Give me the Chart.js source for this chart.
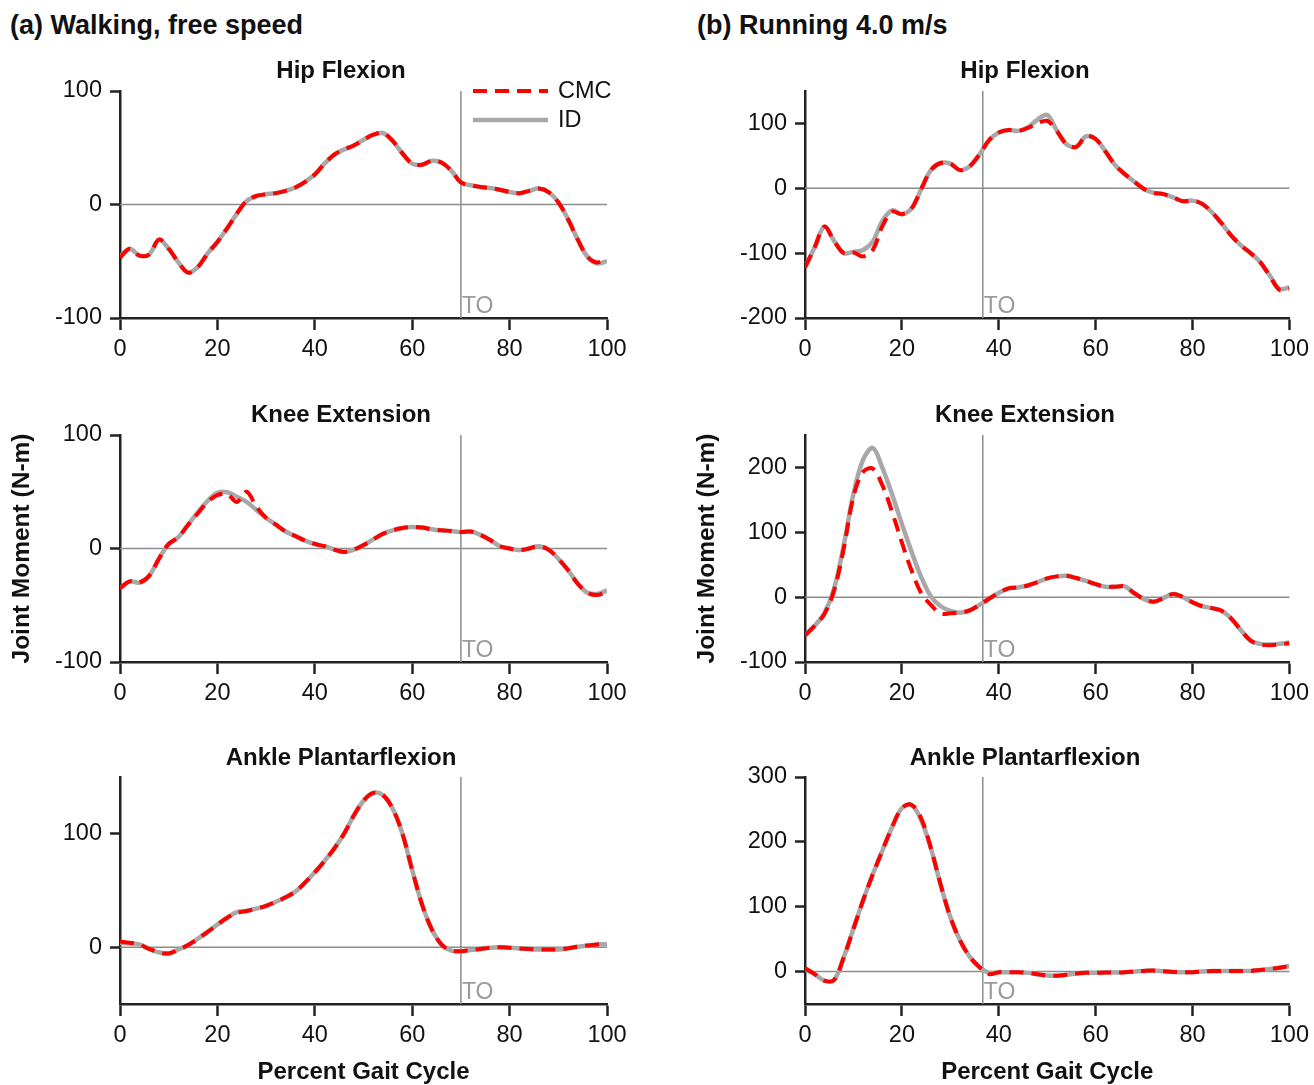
<!DOCTYPE html>
<html><head><meta charset="utf-8">
<script src="https://cdn.jsdelivr.net/npm/chart.js@4.4.1/dist/chart.umd.min.js"></script>
<style>
html,body{margin:0;padding:0;background:#fff;width:1314px;height:1085px;overflow:hidden;position:relative;font-family:"Liberation Sans",Arial,sans-serif;}
canvas{position:absolute;}
.hdr{position:absolute;font-weight:bold;font-size:27px;line-height:30px;color:#111;white-space:nowrap;}
</style></head><body>
<div class="hdr" style="left:10px;top:10px">(a) Walking, free speed</div>
<div class="hdr" style="left:697px;top:10px">(b) Running 4.0 m/s</div>
<canvas id="c0"></canvas><canvas id="c1"></canvas><canvas id="c2"></canvas>
<canvas id="c3"></canvas><canvas id="c4"></canvas><canvas id="c5"></canvas>
<script>
// ---------- data ----------
const pct = [0,2,4,6,8,10,12,14,16,18,20,22,24,26,28,30,32,34,36,38,40,42,44,46,48,50,52,54,56,58,60,62,64,66,68,70,72,74,76,78,80,82,84,86,88,90,92,94,96,98,100];
const xTicks = [0,20,40,60,80,100];

const walkHipID  = [-46,-39,-45,-44,-31,-39,-51,-60,-55,-43,-33,-21,-8,3,7.5,9,10,12,15,20,26.5,36,44,48.5,52,57,61.5,63,56,45,36,35,38.5,37,30,19.5,17,15.5,14.5,13,11,10,12,14,11,2,-13,-31,-46,-52,-50];
const walkHipCMC = [-47,-39,-45,-44,-31,-39,-51,-60,-55,-43,-33,-21,-8,3,7.5,9,10,12,15,20,26.5,36,44,48.5,52,57,61.5,63,56,45,36,35,38.5,37,30,19.5,17,15.5,14.5,13,11,10,12,14,11,2,-13,-31,-46,-51,-47];

const walkKneeID  = [-35,-29,-30,-24,-9,4,10,21,32,42,49,49.5,45.5,41,34,27,21,15,11,7,4,2,-1,-3,-1,3,8,13,16,18,19,18.5,17,16,15.5,14.5,15,12,7.5,2,0,-1.5,0,2,-1,-9,-19,-31,-39,-40,-37];
const walkKneeCMC = [-35,-29,-30,-24,-9,4,10,21,31,41,47,48,41,50,37,27,21,15,11,7,4,2,-1,-3,-1,3,8,13,16,18,19,18.5,17,16,15.5,14.5,15,12,7.5,2,0,-1.5,0,2,-1,-9,-19,-31,-39,-41,-38];

const walkAnkleID  = [4,3.5,2.5,-1.5,-4.5,-5.5,-2,2,7.5,13.5,20,26,31,32,34,36.5,40,44,49,57,66,76,87,100,116,129,136,134,122,100,68,38,16,2.5,-3,-3.5,-2.5,-1.5,-0.5,0,-0.5,-1,-1.5,-2,-2,-2,-1,0.5,1.5,2.5,2.5];
const walkAnkleCMC = [5,4,2.5,-1.5,-4.5,-5.5,-2,2,7.5,13.5,20,26,30,32,34,36.5,40,44,49,57,66,76,87,100,116,129,136,134,122,100,68,38,16,2.5,-3,-3.5,-2.5,-1.5,-0.5,0,-0.5,-1,-1.5,-2,-2,-2,-1,0.5,1.5,2.5,3];

const runHipID  = [-122,-91,-59,-81,-100,-98,-95,-82,-50,-34,-40,-31,-1,28,39,38,28,34,52,74,86,90,88.5,94,106,113,89,68,64,80,76,57,36,22,10,-1,-7,-9,-14,-20,-19,-24,-37,-54,-73,-88,-100,-114,-135,-155,-153];
const runHipCMC = [-122,-91,-59,-81,-100,-99,-105,-95,-58,-36,-40,-31,-1,28,39,38,28,34,52,74,86,90,88.5,93,100,104,88,68,64,80,76,57,36,22,10,-1,-7,-9,-14,-20,-19,-24,-37,-54,-73,-88,-100,-114,-136,-157,-155];

const runKneeID  = [-59,-44,-25,13,80,159,212,230,199,158,113,70,31,1,-14,-21,-24,-20.5,-12,-2.5,6.5,13.5,15,18,23,29,32,33,29.5,25,20,16,16,16.5,6,-3,-7,-1.5,5,0,-8,-14,-17,-21,-33,-51,-67,-72,-73,-72,-70];
const runKneeCMC = [-59,-44,-26,10,75,155,193,198,172,131,84,41,6,-12,-25,-25,-24,-20.5,-12,-2.5,6.5,13.5,15,18,23,29,32,33,29.5,25,20,16,16,16.5,6,-3,-7,-1.5,5,0,-8,-14,-17,-21,-33,-51,-67,-73,-74,-73,-71];

const runAnkleID  = [5,-4,-14,-13,22,66,110,150,187,223,252,257,233,190,134,84,48,23,7,-2,-1,-1,-1,-2,-4,-6,-6.5,-5,-3,-2,-2,-1.5,-1.5,-1,0,1,1.5,0.5,-0.5,-1,-1,0,1,1,1,1,1,2.5,4,6,8.5];
const runAnkleCMC = [5,-4,-14,-13,22,66,110,150,187,223,252,257,236,190,134,84,48,23,7,-4,-1,-1,-1,-2,-4,-6,-6.5,-5,-3,-2,-2,-1.5,-1.5,-1,0,1,1.5,0.5,-0.5,-1,-1,0,1,1,1,1,1,2.5,4,6,8.5];

const walkHipRange = [-100,100],  walkHipTicks = [-100,0,100];
const walkKneeRange = [-100,100], walkKneeTicks = [-100,0,100];
const walkAnkleRange = [-50,150], walkAnkleTicks = [0,100];
const runHipRange = [-200,150],   runHipTicks = [-200,-100,0,100];
const runKneeRange = [-100,250],  runKneeTicks = [-100,0,100,200];
const runAnkleRange = [-50,300],  runAnkleTicks = [0,100,200,300];

const walkToeOff = 70, runToeOff = 36.7;
const seriesNames = ['CMC','ID'];
const panelTitles = ['Hip Flexion','Knee Extension','Ankle Plantarflexion'];
const yAxisTitle = 'Joint Moment (N-m)';
const xAxisTitle = 'Percent Gait Cycle';

// ---------- layout ----------
const FONT = '"Liberation Sans", Arial, sans-serif';
Chart.defaults.font.family = FONT;
const cols = [
  {left:0,   width:650, plotLeft:120, plotRight:607, titleX:341},
  {left:685, width:629, plotLeft:805, plotRight:1291, titleX:1025}
];
const rows = [
  {top:45,  height:320, titleY:71,  plotTop:91,  plotBottom:318},
  {top:389, height:320, titleY:415, plotTop:435, plotBottom:662},
  {top:732, height:353, titleY:758, plotTop:777, plotBottom:1004}
];
const TICK_SIZE = 23.5;

const refLines = {
  id: 'refLines',
  beforeDatasetsDraw(chart, args, o) {
    const {ctx, chartArea: a, scales: {x, y}} = chart;
    ctx.save();
    ctx.strokeStyle = '#8c8c8c'; ctx.lineWidth = 1.5;
    const y0 = y.getPixelForValue(0);
    ctx.beginPath(); ctx.moveTo(a.left, y0); ctx.lineTo(a.right, y0); ctx.stroke();
    const xt = x.getPixelForValue(o.toeOff);
    ctx.beginPath(); ctx.moveTo(xt, a.top); ctx.lineTo(xt, a.bottom); ctx.stroke();
    ctx.fillStyle = '#9a9a9a'; ctx.font = '23px ' + FONT;
    ctx.textAlign = 'left'; ctx.textBaseline = 'alphabetic';
    ctx.fillText('TO', xt + 1, a.bottom - 5);
    ctx.restore();
  },
  afterDatasetsDraw(chart, args, o) {
    const {ctx, chartArea: a} = chart;
    ctx.save();
    // panel title
    ctx.fillStyle = '#111'; ctx.font = 'bold 24px ' + FONT;
    ctx.textAlign = 'center'; ctx.textBaseline = 'middle';
    ctx.fillText(o.title, o.titleX, o.titleY);
    if (o.legend) {
      chart.data.datasets.forEach((d, i) => {
        const yy = a.top + i * 29;
        ctx.strokeStyle = d.borderColor; ctx.lineWidth = d.borderWidth;
        ctx.setLineDash(d.borderDash || []);
        ctx.beginPath(); ctx.moveTo(a.right - 134, yy); ctx.lineTo(a.right - 59, yy); ctx.stroke();
        ctx.setLineDash([]);
        ctx.fillStyle = '#111'; ctx.font = '23.5px ' + FONT;
        ctx.textAlign = 'left'; ctx.textBaseline = 'middle';
        ctx.fillText(d.label, a.right - 49, yy + 1);
      });
    }
    ctx.restore();
  }
};

function makePanel(canvasId, col, row, title, cmc, idv, range, yt, toeOff, opts) {
  const cv = document.getElementById(canvasId);
  const c = cols[col], r = rows[row];
  cv.width = c.width; cv.height = r.height;
  cv.style.left = c.left + 'px'; cv.style.top = r.top + 'px';
  cv.style.width = c.width + 'px'; cv.style.height = r.height + 'px';
  new Chart(cv, {
    type: 'line',
    data: {
      datasets: [
        {label: seriesNames[0], data: pct.map((p,i)=>({x:p, y:cmc[i]})), borderColor:'#ff0000', borderWidth:4, borderDash:[14,8], pointRadius:0, tension:0.35, fill:false, borderCapStyle:'butt'},
        {label: seriesNames[1], data: pct.map((p,i)=>({x:p, y:idv[i]})), borderColor:'#a8a8a8', borderWidth:4.5, pointRadius:0, tension:0.35, fill:false}
      ]
    },
    options: {
      responsive: false, animation: false, devicePixelRatio: 1, events: [],
      layout: {padding: {left:0, top: r.plotTop - r.top, bottom:0, right: c.left + c.width - c.plotRight}},
      plugins: {
        legend: {display:false}, tooltip: {enabled:false}, title: {display:false},
        refLines: {toeOff, legend: !!opts.legend, title, titleX: c.titleX - c.left, titleY: r.titleY - r.top}
      },
      scales: {
        x: {
          type:'linear', min:0, max:100,
          afterBuildTicks: s => { s.ticks = xTicks.map(v => ({value:v})); },
          afterFit: s => { s.height = r.top + r.height - r.plotBottom; },
          grid: {drawOnChartArea:false, drawTicks:true, tickLength:12, tickWidth:2.5, tickColor:'#222'},
          border: {display:true, color:'#222', width:2.5},
          ticks: {color:'#111', font:{size:TICK_SIZE}, padding:5, maxRotation:0, autoSkip:false},
          title: {display: !!opts.xTitle, text: xAxisTitle, color:'#111', font:{size:24, weight:'bold', lineHeight:1}, padding:{top:0, bottom:1}}
        },
        y: {
          type:'linear', min:range[0], max:range[1],
          afterBuildTicks: s => { s.ticks = yt.map(v => ({value:v})); },
          afterFit: s => { s.width = c.plotLeft - c.left; },
          grid: {drawOnChartArea:false, drawTicks:true, tickLength:10, tickWidth:2.5, tickColor:'#222'},
          border: {display:true, color:'#222', width:2.5},
          ticks: {color:'#111', font:{size:TICK_SIZE}, padding:8},
          title: {display: !!opts.yTitle, text: yAxisTitle, color:'#111', font:{size:24.5, weight:'bold', lineHeight:1}, padding:{top:10, bottom:0}}
        }
      }
    },
    plugins: [refLines]
  });
}

makePanel('c0', 0, 0, panelTitles[0], walkHipCMC, walkHipID, walkHipRange, walkHipTicks, walkToeOff, {legend:true});
makePanel('c1', 0, 1, panelTitles[1], walkKneeCMC, walkKneeID, walkKneeRange, walkKneeTicks, walkToeOff, {yTitle:true});
makePanel('c2', 0, 2, panelTitles[2], walkAnkleCMC, walkAnkleID, walkAnkleRange, walkAnkleTicks, walkToeOff, {xTitle:true});
makePanel('c3', 1, 0, panelTitles[0], runHipCMC, runHipID, runHipRange, runHipTicks, runToeOff, {});
makePanel('c4', 1, 1, panelTitles[1], runKneeCMC, runKneeID, runKneeRange, runKneeTicks, runToeOff, {yTitle:true});
makePanel('c5', 1, 2, panelTitles[2], runAnkleCMC, runAnkleID, runAnkleRange, runAnkleTicks, runToeOff, {xTitle:true});
</script>
</body></html>
